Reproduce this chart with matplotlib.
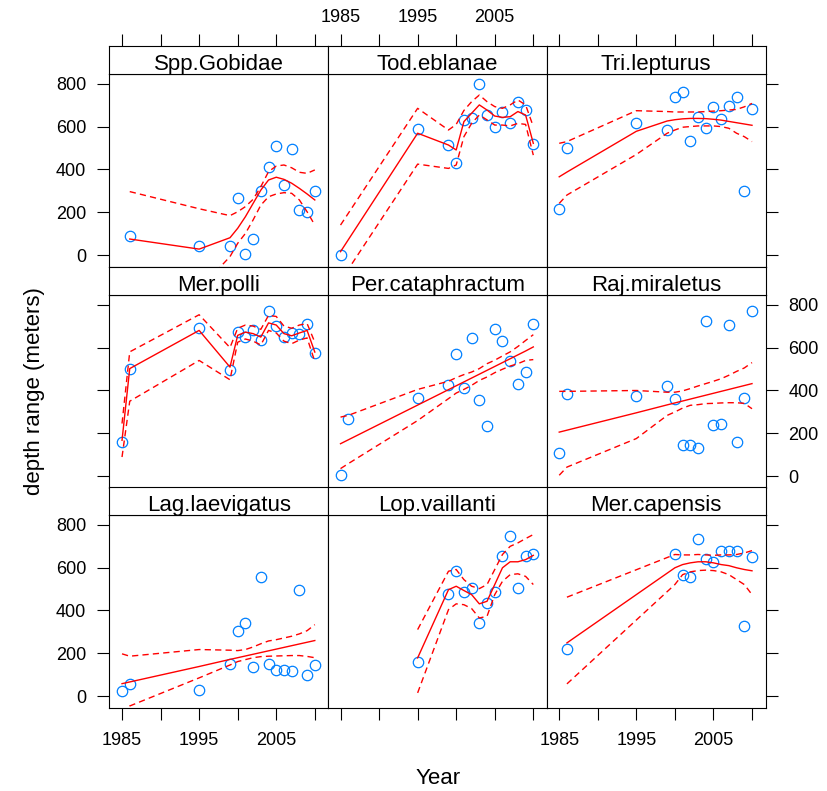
import matplotlib
matplotlib.use("Agg")
import matplotlib.pyplot as plt

plt.rcParams['font.family'] = ['Liberation Sans', 'DejaVu Sans']

# ---- data (year, depth in metres, fit and band) ----
yrs_full = [1985, 1986, 1995, 1999, 2000, 2001, 2002, 2003, 2004, 2005, 2006, 2007, 2008, 2009, 2010]

gob_years = [1986, 1995, 1999, 2000, 2001, 2002, 2003, 2004, 2005, 2006, 2007, 2008, 2009, 2010]
gob_depth = [90, 45, 43, 266, 6, 76, 301, 410, 510, 328, 494, 210, 202, 301]
gob_fit = [76, 29, 82, 126, 180, 242, 304, 351, 364, 354, 336, 312, 286, 258]
gob_hi = [297, 217, 185, 203, 227, 261, 320, 390, 416, 421, 408, 387, 382, 398]
gob_lo = [-145, -159, -6, 56, 102, 165, 234, 273, 286, 292, 289, 258, 203, 141]

tod_years = [1985, 1995, 1999, 2000, 2001, 2002, 2003, 2004, 2005, 2006, 2007, 2008, 2009, 2010]
tod_depth = [1, 587, 514, 429, 632, 638, 797, 654, 597, 670, 615, 716, 677, 519]
tod_fit = [17, 569, 514, 491, 623, 662, 701, 677, 649, 643, 646, 670, 654, 522]
tod_hi = [141, 685, 584, 610, 675, 716, 747, 716, 693, 685, 701, 724, 701, 600]
tod_lo = [-120, 425, 405, 421, 553, 615, 654, 631, 607, 607, 603, 615, 610, 467]

tri_years = yrs_full
tri_depth = [214, 499, 615, 584, 737, 763, 533, 643, 595, 693, 634, 698, 737, 301, 682]
tri_fit = [366, 388, 578, 626, 632, 636, 638, 638, 637, 634, 630, 624, 618, 612, 606]
tri_hi = [522, 530, 674, 670, 668, 668, 668, 668, 670, 672, 674, 677, 680, 692, 708]
tri_lo = [242, 281, 470, 569, 584, 597, 600, 603, 603, 603, 600, 592, 569, 553, 530]

pol_years = yrs_full
pol_depth = [160, 502, 691, 497, 672, 649, 680, 634, 769, 699, 649, 670, 665, 712, 576]
pol_fit = [168, 502, 680, 509, 657, 672, 665, 649, 715, 705, 665, 655, 668, 680, 579]
pol_hi = [246, 580, 753, 600, 690, 705, 700, 685, 750, 745, 700, 690, 705, 712, 625]
pol_lo = [90, 350, 540, 450, 625, 640, 630, 612, 680, 668, 630, 618, 635, 645, 535]

per_years = yrs_full
per_depth = [5, 266, 365, 427, 572, 412, 645, 354, 233, 685, 629, 536, 429, 486, 708]
per_fit = [152, 170, 332, 404, 422, 440, 458, 476, 494, 512, 530, 548, 566, 584, 603]
per_hi = [276, 284, 405, 443, 460, 474, 486, 502, 525, 541, 561, 580, 605, 633, 660]
per_lo = [36, 59, 260, 362, 388, 405, 424, 447, 463, 483, 499, 514, 525, 540, 544]

raj_years = yrs_full
raj_depth = [109, 385, 373, 421, 359, 148, 144, 132, 722, 241, 245, 704, 160, 365, 769]
raj_fit = [206, 215, 296, 333, 342, 351, 360, 369, 378, 387, 396, 405, 414, 423, 432]
raj_hi = [396, 396, 400, 392, 392, 398, 409, 421, 432, 443, 455, 471, 489, 505, 530]
raj_lo = [5, 43, 176, 284, 300, 318, 331, 334, 339, 340, 342, 343, 343, 340, 315]

lag_years = yrs_full
lag_depth = [23, 58, 28, 151, 303, 342, 135, 557, 152, 124, 121, 117, 497, 101, 148]
lag_fit = [59, 67, 139, 172, 180, 188, 196, 204, 212, 220, 228, 236, 244, 252, 260]
lag_hi = [198, 187, 218, 215, 213, 218, 230, 245, 258, 264, 272, 280, 291, 306, 334]
lag_lo = [-80, -45, 86, 146, 162, 171, 180, 185, 187, 188, 189, 190, 190, 186, 180]

lop_years = [1995, 1999, 2000, 2001, 2002, 2003, 2004, 2005, 2006, 2007, 2008, 2009, 2010]
lop_depth = [160, 477, 586, 487, 505, 342, 435, 487, 653, 749, 505, 656, 661]
lop_fit = [179, 497, 513, 493, 474, 431, 443, 521, 599, 627, 627, 637, 657]
lop_hi = [311, 583, 591, 544, 513, 502, 521, 591, 661, 699, 715, 735, 754]
lop_lo = [16, 404, 431, 427, 409, 365, 373, 474, 536, 567, 571, 559, 521]

cap_years = [1986, 2000, 2001, 2002, 2003, 2004, 2005, 2006, 2007, 2008, 2009, 2010]
cap_depth = [222, 664, 567, 555, 731, 642, 627, 679, 679, 679, 326, 648]
cap_fit = [249, 599, 614, 622, 627, 627, 622, 614, 609, 599, 591, 585]
cap_hi = [462, 661, 659, 659, 661, 659, 657, 659, 659, 661, 668, 679]
cap_lo = [58, 521, 567, 580, 586, 588, 586, 580, 567, 544, 521, 474]

# panel order, row by row from the top
panels = [
    ("Spp.Gobidae", gob_years, gob_depth, gob_fit, gob_hi, gob_lo),
    ("Tod.eblanae", tod_years, tod_depth, tod_fit, tod_hi, tod_lo),
    ("Tri.lepturus", tri_years, tri_depth, tri_fit, tri_hi, tri_lo),
    ("Mer.polli", pol_years, pol_depth, pol_fit, pol_hi, pol_lo),
    ("Per.cataphractum", per_years, per_depth, per_fit, per_hi, per_lo),
    ("Raj.miraletus", raj_years, raj_depth, raj_fit, raj_hi, raj_lo),
    ("Lag.laevigatus", lag_years, lag_depth, lag_fit, lag_hi, lag_lo),
    ("Lop.vaillanti", lop_years, lop_depth, lop_fit, lop_hi, lop_lo),
    ("Mer.capensis", cap_years, cap_depth, cap_fit, cap_hi, cap_lo),
]

x_ticks = [1985, 1990, 1995, 2000, 2005, 2010]
x_labels = ["1985", "", "1995", "", "2005", ""]
y_ticks = [0, 200, 400, 600, 800]

# ---- layout in pixels ----
W, H = 827, 791
fig = plt.figure(figsize=(W / 100, H / 100), dpi=100)

col_left = [109.3, 327.8, 546.5]
col_w = 219.0
row_top = [74, 295, 515]
panel_h = 192.7
strip_h = 28

tick_kw = dict(direction='out', length=8.6, width=0.8, labelsize=13, colors='black')
dash = (0, (4.5, 3))

for i, (name, yr, dep, fit, hi, lo) in enumerate(panels):
    r, c = divmod(i, 3)
    left = col_left[c] / W
    bottom = 1 - (row_top[r] + panel_h) / H
    ax = fig.add_axes([left, bottom, col_w / W, panel_h / H])
    sax = fig.add_axes([left, 1 - row_top[r] / H, col_w / W, strip_h / H])

    ax.plot(yr, dep, 'o', mfc='none', mec='#0080ff', ms=7.5, mew=0.9)
    ax.plot(yr, fit, color='red', lw=1.0)
    ax.plot(yr, hi, color='red', lw=1.0, ls=dash)
    ax.plot(yr, lo, color='red', lw=1.0, ls=dash)

    ax.set_xlim(1983.35, 2011.75)
    ax.set_ylim(-53, 845)
    ax.set_xticks(x_ticks, x_labels)
    ax.set_yticks(y_ticks)
    ax.tick_params(axis='both', **tick_kw)
    ax.tick_params(axis='x', pad=9)
    ax.tick_params(axis='y', pad=8)
    ax.tick_params(left=(c == 0), labelleft=(c == 0 and r != 1),
                   right=(c == 2), labelright=(c == 2 and r == 1),
                   bottom=(r == 2), labelbottom=(r == 2 and c != 1),
                   top=False, labeltop=False)
    for s in ax.spines.values():
        s.set_linewidth(0.8)

    # strip on top of each panel
    sax.set_xlim(1983.35, 2011.75)
    sax.set_yticks([])
    sax.set_xticks(x_ticks, x_labels)
    sax.tick_params(axis='x', **tick_kw)
    sax.tick_params(axis='x', pad=6, bottom=False, labelbottom=False,
                    top=(r == 0), labeltop=(r == 0 and c == 1))
    for s in sax.spines.values():
        s.set_linewidth(0.8)
    sax.text(0.5, 0.13, name, transform=sax.transAxes, ha='center',
             va='baseline', fontsize=16)

fig.text(437.6 / W, 1 - 778 / H, "Year", ha='center', va='center', fontsize=16)
fig.text(35 / W, 1 - 391 / H, "depth range (meters)", ha='center', va='center',
         rotation=90, fontsize=16)

fig.savefig("out.png", dpi=100)
